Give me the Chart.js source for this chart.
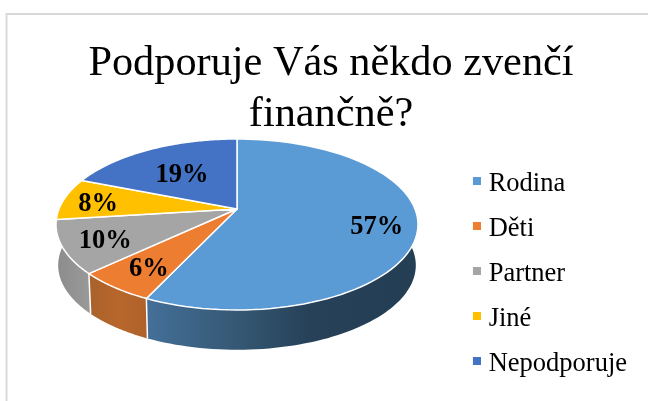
<!DOCTYPE html>
<html><head><meta charset="utf-8">
<style>html,body{margin:0;padding:0;background:#fff}canvas{display:block}</style>
<script src="https://cdn.jsdelivr.net/npm/chart.js@4"></script>
</head><body><canvas id="c" width="648" height="401"></canvas>
<script>
const titleLines = ["Podporuje Vás někdo zvenčí", "finančně?"];
const categories = ["Rodina", "Děti", "Partner", "Jiné", "Nepodporuje"];
const shares = [57, 6, 10, 8, 19];
const sliceColors = ["#5B9BD5", "#ED7D31", "#A5A5A5", "#FFC000", "#4472C4"];

const SERIF = '"Liberation Serif", serif';
// Perspective of the tilted pie
const P = {cx: 237, cy: 209, A: 178, B: 82.7, k: 0.181, drop: 41, shrink: 0.988};
const labelRadius = [0.78, 0.75, 0.77, 0.8, 0.6];
// Chart.js angles start at -PI/2 for 12 o'clock
function top3d(a, r = 1) {
  const u = Math.cos(a) * r, v = Math.sin(a) * r, w = 1 - P.k * v;
  return [P.cx + P.A * u / w, P.cy + P.B * v / w];
}
function low3d(a) {
  const [x, y] = top3d(a);
  return [P.cx + (x - P.cx) * P.shrink, P.cy + (y - P.cy) * P.shrink + P.drop];
}
function sidePath(ctx, a0, a1) {
  const n = 80;
  ctx.beginPath();
  for (let i = 0; i <= n; i++) { const p = top3d(a0 + (a1 - a0) * i / n); i ? ctx.lineTo(p[0], p[1]) : ctx.moveTo(p[0], p[1]); }
  for (let i = n; i >= 0; i--) { const p = low3d(a0 + (a1 - a0) * i / n); ctx.lineTo(p[0], p[1]); }
  ctx.closePath();
}
const sideShades = [
  [[0, "#446F98"], [0.33, "#355874"], [0.6, "#264158"], [1, "#243E54"]],
  [[0, "#A9622B"], [0.5, "#B8672C"], [1, "#AD612A"]],
  [[0, "#8C8C8C"], [1, "#9A9A9A"]]
];
const pie3d = {
  id: "pie3d",
  afterLayout(chart) {
    const lg = chart.legend;
    lg.top += 73; lg.bottom += 73; lg.left += 9; lg.right += 9;
  },
  beforeDraw(chart) {
    const ctx = chart.ctx;
    ctx.save();
    ctx.fillStyle = "#fff"; ctx.fillRect(0, 0, 648, 401);
    ctx.strokeStyle = "#D9D9D9"; ctx.lineWidth = 2;
    ctx.beginPath(); ctx.moveTo(6.5, 401); ctx.lineTo(6.5, 14); ctx.lineTo(648, 14); ctx.stroke();
    ctx.restore();
  },
  beforeDatasetsDraw(chart) {
    const ctx = chart.ctx, arcs = chart.getDatasetMeta(0).data;
    // walls: only the front-facing slices
    const spans = [[-0.35, arcs[0].endAngle, 148, 417],
                   [arcs[1].startAngle, arcs[1].endAngle, 90, 149],
                   [arcs[2].startAngle, Math.PI + 0.3, 56, 91]];
    spans.forEach((s, i) => {
      const g = ctx.createLinearGradient(s[2], 0, s[3], 0);
      sideShades[i].forEach(c => g.addColorStop(c[0], c[1]));
      sidePath(ctx, s[0], s[1]);
      ctx.fillStyle = g; ctx.fill();
    });
    ctx.strokeStyle = "#fff"; ctx.lineWidth = 1.5;
    [arcs[0].endAngle, arcs[1].endAngle].forEach(a => {
      const p = top3d(a), q = low3d(a);
      ctx.beginPath(); ctx.moveTo(p[0], p[1]); ctx.lineTo(q[0], q[1]); ctx.stroke();
    });
    // library arcs, tilted to fit inside the pie's top face
    const a = arcs[0], f = 0.98;
    ctx.save();
    ctx.translate(P.cx, 224.5);
    ctx.scale(181 * f / a.outerRadius, 85.5 * f / a.outerRadius);
    ctx.translate(-a.x, -a.y);
  },
  afterDatasetsDraw(chart) {
    const ctx = chart.ctx, arcs = chart.getDatasetMeta(0).data;
    ctx.restore();
    // perspective-correct top face from the library's slice angles
    arcs.forEach((arc, i) => {
      const n = 90;
      ctx.beginPath(); ctx.moveTo(P.cx, P.cy);
      for (let j = 0; j <= n; j++) {
        const p = top3d(arc.startAngle + (arc.endAngle - arc.startAngle) * j / n);
        ctx.lineTo(p[0], p[1]);
      }
      ctx.closePath();
      ctx.fillStyle = sliceColors[i]; ctx.fill();
      ctx.strokeStyle = "#fff"; ctx.lineWidth = 1.5; ctx.lineJoin = "round"; ctx.stroke();
    });
    ctx.save();
    ctx.fillStyle = "#000"; ctx.font = "bold 26.5px " + SERIF;
    ctx.textAlign = "center"; ctx.textBaseline = "middle";
    arcs.forEach((arc, i) => {
      const p = top3d((arc.startAngle + arc.endAngle) / 2, labelRadius[i]);
      ctx.fillText(shares[i] + "%", p[0], p[1] + 3.5);
    });
    ctx.restore();
  }
};
function swatch(color) {
  const c = document.createElement("canvas");
  c.width = 12; c.height = 14;
  const x = c.getContext("2d"); x.fillStyle = color; x.fillRect(4, 0, 8, 8);
  return c;
}
new Chart(document.getElementById("c"), {
  type: "pie",
  data: {labels: categories, datasets: [{data: shares, backgroundColor: sliceColors, borderWidth: 0}]},
  plugins: [pie3d],
  options: {
    responsive: false, animation: false, devicePixelRatio: 1,
    layout: {padding: {left: 34, right: 20, top: 1, bottom: 0}},
    plugins: {
      tooltip: {enabled: false},
      title: {display: true, text: titleLines, color: "#000",
        font: {family: SERIF, size: 42.3, weight: "normal", lineHeight: 51 / 42.3},
        padding: {top: 37.5, bottom: 6}},
      legend: {position: "right", align: "center",
        labels: {color: "#000", font: {family: SERIF, size: 26.5, lineHeight: 1}, padding: 18.5,
          usePointStyle: true, pointStyleWidth: 1, boxHeight: 8,
          generateLabels(chart) {
            return categories.map((t, i) => ({text: t, pointStyle: swatch(sliceColors[i]), fillStyle: sliceColors[i],
              strokeStyle: sliceColors[i], lineWidth: 0, hidden: false, index: i, fontColor: "#000"}));
          }}}
    }
  }
});
</script></body></html>
